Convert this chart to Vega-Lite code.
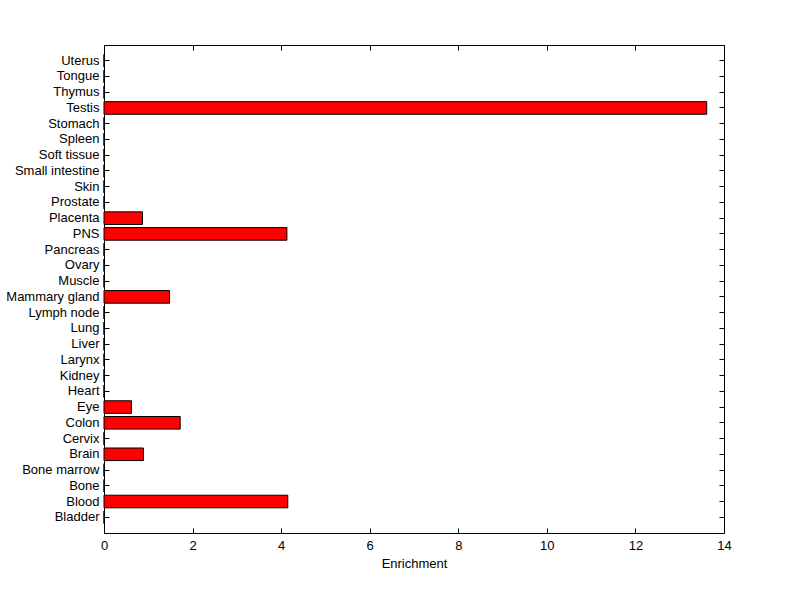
{
  "$schema": "https://vega.github.io/schema/vega-lite/v6.json",
  "autosize": {"type": "none"},
  "width": 620,
  "height": 488,
  "padding": {"left": 104, "top": 45, "right": 76, "bottom": 66},
  "background": "white",
  "config": {
    "view": {"stroke": "black", "strokeWidth": 1},
    "font": "Liberation Sans",
    "axis": {
      "domainColor": "black",
      "tickColor": "black",
      "labelColor": "black",
      "titleColor": "black",
      "labelFont": "Liberation Sans",
      "titleFont": "Liberation Sans",
      "labelFontSize": 13,
      "titleFontSize": 13,
      "titleFontWeight": "normal",
      "grid": false,
      "tickSize": -5,
      "domain": true
    }
  },
  "data": {
    "values": [
      {"tissue": "Bladder", "enrichment": 0},
      {"tissue": "Blood", "enrichment": 4.15},
      {"tissue": "Bone", "enrichment": 0},
      {"tissue": "Bone marrow", "enrichment": 0},
      {"tissue": "Brain", "enrichment": 0.89},
      {"tissue": "Cervix", "enrichment": 0},
      {"tissue": "Colon", "enrichment": 1.72},
      {"tissue": "Eye", "enrichment": 0.62},
      {"tissue": "Heart", "enrichment": 0},
      {"tissue": "Kidney", "enrichment": 0},
      {"tissue": "Larynx", "enrichment": 0},
      {"tissue": "Liver", "enrichment": 0},
      {"tissue": "Lung", "enrichment": 0},
      {"tissue": "Lymph node", "enrichment": 0},
      {"tissue": "Mammary gland", "enrichment": 1.48},
      {"tissue": "Muscle", "enrichment": 0},
      {"tissue": "Ovary", "enrichment": 0},
      {"tissue": "Pancreas", "enrichment": 0},
      {"tissue": "PNS", "enrichment": 4.13},
      {"tissue": "Placenta", "enrichment": 0.87},
      {"tissue": "Prostate", "enrichment": 0},
      {"tissue": "Skin", "enrichment": 0},
      {"tissue": "Small intestine", "enrichment": 0},
      {"tissue": "Soft tissue", "enrichment": 0},
      {"tissue": "Spleen", "enrichment": 0},
      {"tissue": "Stomach", "enrichment": 0},
      {"tissue": "Testis", "enrichment": 13.61},
      {"tissue": "Thymus", "enrichment": 0},
      {"tissue": "Tongue", "enrichment": 0},
      {"tissue": "Uterus", "enrichment": 0}
    ]
  },
  "layer": [
    {
      "mark": {"type": "bar", "fill": "#ff0000", "stroke": "black", "strokeWidth": 1},
      "encoding": {
        "y": {
          "field": "tissue",
          "type": "nominal",
          "sort": ["Uterus", "Tongue", "Thymus", "Testis", "Stomach", "Spleen", "Soft tissue", "Small intestine", "Skin", "Prostate", "Placenta", "PNS", "Pancreas", "Ovary", "Muscle", "Mammary gland", "Lymph node", "Lung", "Liver", "Larynx", "Kidney", "Heart", "Eye", "Colon", "Cervix", "Brain", "Bone marrow", "Bone", "Blood", "Bladder"],
          "scale": {"paddingInner": 0.2, "paddingOuter": 0.6},
          "axis": {"title": null, "orient": "left", "labelPadding": 10, "domain": false}
        },
        "x": {
          "field": "enrichment",
          "type": "quantitative",
          "scale": {"domain": [0, 14], "nice": false},
          "axis": {"title": "Enrichment", "orient": "bottom", "values": [0, 2, 4, 6, 8, 10, 12, 14], "labelFlush": false, "labelPadding": 11, "titlePadding": 5, "domain": false}
        }
      }
    },
    {
      "mark": {"type": "bar", "opacity": 0},
      "encoding": {
        "y": {
          "field": "tissue",
          "type": "nominal",
          "sort": ["Uterus", "Tongue", "Thymus", "Testis", "Stomach", "Spleen", "Soft tissue", "Small intestine", "Skin", "Prostate", "Placenta", "PNS", "Pancreas", "Ovary", "Muscle", "Mammary gland", "Lymph node", "Lung", "Liver", "Larynx", "Kidney", "Heart", "Eye", "Colon", "Cervix", "Brain", "Bone marrow", "Bone", "Blood", "Bladder"],
          "axis": {"title": null, "orient": "right", "labels": false, "domain": false}
        },
        "x": {
          "field": "enrichment",
          "type": "quantitative",
          "axis": {"title": null, "orient": "top", "labels": false, "values": [0, 2, 4, 6, 8, 10, 12, 14], "domain": false}
        }
      }
    }
  ],
  "resolve": {"axis": {"x": "independent", "y": "independent"}}
}
